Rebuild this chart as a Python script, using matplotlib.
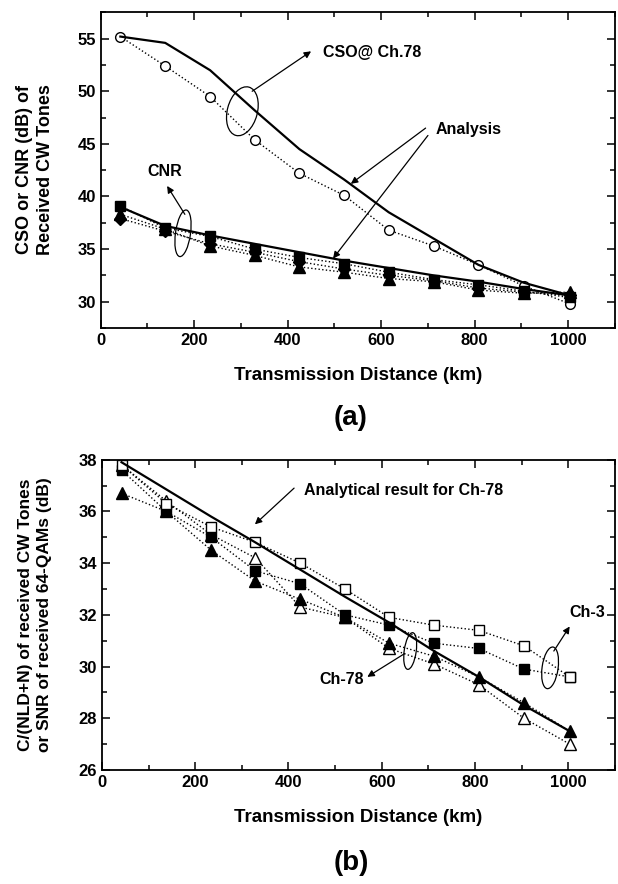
import matplotlib
matplotlib.use("Agg")
import matplotlib.pyplot as plt
from matplotlib.patches import Ellipse
from matplotlib.ticker import MultipleLocator
from matplotlib.transforms import ScaledTranslation

plt.rcParams["font.family"] = ["Liberation Sans", "DejaVu Sans"]
plt.rcParams["font.weight"] = "bold"

# transmission distance (km)
dist = [42, 138, 234, 329, 425, 521, 616, 712, 808, 905, 1003]

# (a) CW tones
cso_meas = [55.2, 52.4, 49.5, 45.4, 42.2, 40.1, 36.8, 35.3, 33.5, 31.5, 29.8]
cso_analysis = [55.2, 54.6, 52.0, 48.2, 44.5, 41.6, 38.5, 36.0, 33.5, 31.8, 30.6]
cnr_analysis = [39.0, 37.2, 36.3, 35.5, 34.7, 33.9, 33.2, 32.5, 31.9, 31.2, 30.6]
cnr_sq = [39.1, 37.0, 36.2, 35.0, 34.2, 33.6, 32.8, 32.1, 31.6, 31.0, 30.4]
cnr_dia = [37.9, 36.7, 35.5, 34.7, 33.8, 33.1, 32.5, 32.0, 31.3, 30.9, 30.6]
cnr_tri = [38.3, 36.9, 35.3, 34.4, 33.3, 32.8, 32.2, 31.9, 31.1, 30.8, 30.9]

# (b) C/(NLD+N) and SNR
ch3_open = [37.8, 36.3, 35.4, 34.8, 34.0, 33.0, 31.9, 31.6, 31.4, 30.8, 29.6]
ch3_fill = [37.6, 36.0, 35.0, 33.7, 33.2, 32.0, 31.6, 30.9, 30.7, 29.9, 29.6]
ch78_open = [37.8, 36.4, 35.1, 34.2, 32.3, 31.9, 30.7, 30.1, 29.3, 28.0, 27.0]
ch78_fill = [36.7, 36.0, 34.5, 33.3, 32.6, 31.9, 30.9, 30.4, 29.6, 28.6, 27.5]
analytic78 = [37.9, 36.85, 35.8, 34.8, 33.75, 32.7, 31.7, 30.6, 29.6, 28.5, 27.5]

fig = plt.figure(figsize=(6.18, 8.84), dpi=100)
ax1 = fig.add_axes([0.163, 0.629, 0.832, 0.357])
ax2 = fig.add_axes([0.165, 0.129, 0.830, 0.351])

arrow = dict(arrowstyle="-|>", lw=0.9, color="black", mutation_scale=10, shrinkA=0, shrinkB=0)
dot = dict(color="black", ls=":", lw=1.0)


def loop(ax, x, y, w, h, angle):
    # hand-drawn style ellipse, size in inches, centred on a data point
    tr = fig.dpi_scale_trans + ScaledTranslation(x, y, ax.transData)
    ax.add_patch(Ellipse((0, 0), w, h, angle=angle, fill=False, lw=0.9, transform=tr))


def style(ax, ymaj, ymin):
    ax.set_xlim(0, 1100)
    ax.xaxis.set_major_locator(MultipleLocator(200))
    ax.xaxis.set_minor_locator(MultipleLocator(100))
    ax.yaxis.set_major_locator(MultipleLocator(ymaj))
    ax.yaxis.set_minor_locator(MultipleLocator(ymin))
    ax.tick_params(which="both", direction="in", top=True, right=True, labelsize=12, width=1.1)
    ax.tick_params(which="major", length=6)
    ax.tick_params(which="minor", length=3.5)
    for s in ax.spines.values():
        s.set_linewidth(1.3)
    for lab in ax.get_xticklabels() + ax.get_yticklabels():
        lab.set_fontweight("bold")
    ax.set_xlabel("Transmission Distance (km)", fontsize=13.5, fontweight="bold", labelpad=14)


# ---- (a)
ax1.plot(dist, cso_meas, marker="o", mfc="white", mec="black", ms=7, **dot)
ax1.plot(dist, cso_analysis, color="black", lw=1.6)
ax1.plot(dist, cnr_tri, marker="^", mfc="black", mec="black", ms=8, **dot)
ax1.plot(dist, cnr_dia, marker="D", mfc="black", mec="black", ms=6.5, **dot)
ax1.plot(dist, cnr_sq, marker="s", mfc="black", mec="black", ms=7.5, **dot)
ax1.plot(dist, cnr_analysis, color="black", lw=1.6)
ax1.set_ylim(27.5, 57.5)
style(ax1, 5, 2.5)

loop(ax1, 303, 48.1, 0.30, 0.50, -15)
ax1.annotate("", xy=(450, 53.8), xytext=(324, 50.0), arrowprops=arrow)
ax1.text(475, 53.7, "CSO@ Ch.78", fontsize=11.5, fontweight="bold", va="center")
ax1.text(786, 46.4, "Analysis", fontsize=11.5, fontweight="bold", ha="center", va="center")
ax1.annotate("", xy=(535, 41.2), xytext=(695, 46.5), arrowprops=arrow)
ax1.annotate("", xy=(497, 34.1), xytext=(700, 45.8), arrowprops=arrow)
loop(ax1, 176, 36.5, 0.15, 0.47, -8)
ax1.annotate("", xy=(142, 41.0), xytext=(180, 38.3), arrowprops=arrow)
ax1.text(138, 42.4, "CNR", fontsize=11.5, fontweight="bold", ha="center", va="center")

fig.text(0.057, 0.808, "CSO or CNR (dB) of\nReceived CW Tones", rotation=90,
         ha="center", va="center", fontsize=13, fontweight="bold", linespacing=1.3)
fig.text(0.568, 0.527, "(a)", ha="center", va="center", fontsize=20, fontweight="bold")

# ---- (b)
ax2.plot(dist, ch78_open, marker="^", mfc="white", mec="black", ms=8, **dot)
ax2.plot(dist, ch78_fill, marker="^", mfc="black", mec="black", ms=8, **dot)
ax2.plot(dist, ch3_fill, marker="s", mfc="black", mec="black", ms=6.5, **dot)
ax2.plot(dist, ch3_open, marker="s", mfc="white", mec="black", ms=6.5, **dot)
ax2.plot(dist, analytic78, color="black", lw=1.6)
ax2.set_ylim(26, 38)
style(ax2, 2, 1)

ax2.text(434, 36.8, "Analytical result for Ch-78", fontsize=11.5, fontweight="bold", va="center")
ax2.annotate("", xy=(328, 35.5), xytext=(412, 36.9), arrowprops=arrow)
ax2.text(1040, 32.1, "Ch-3", fontsize=11.5, fontweight="bold", ha="center", va="center")
loop(ax2, 961, 29.95, 0.16, 0.42, -8)
ax2.annotate("", xy=(1003, 31.55), xytext=(969, 30.6), arrowprops=arrow)
ax2.text(514, 29.5, "Ch-78", fontsize=11.5, fontweight="bold", ha="center", va="center")
loop(ax2, 661, 30.6, 0.12, 0.37, -8)
ax2.annotate("", xy=(569, 29.6), xytext=(649, 30.5), arrowprops=arrow)

fig.text(0.057, 0.305, "C/(NLD+N) of received CW Tones\nor SNR of received 64-QAMs (dB)",
         rotation=90, ha="center", va="center", fontsize=12.5, fontweight="bold", linespacing=1.3)
fig.text(0.568, 0.024, "(b)", ha="center", va="center", fontsize=20, fontweight="bold")

fig.savefig("out.png", dpi=100)
